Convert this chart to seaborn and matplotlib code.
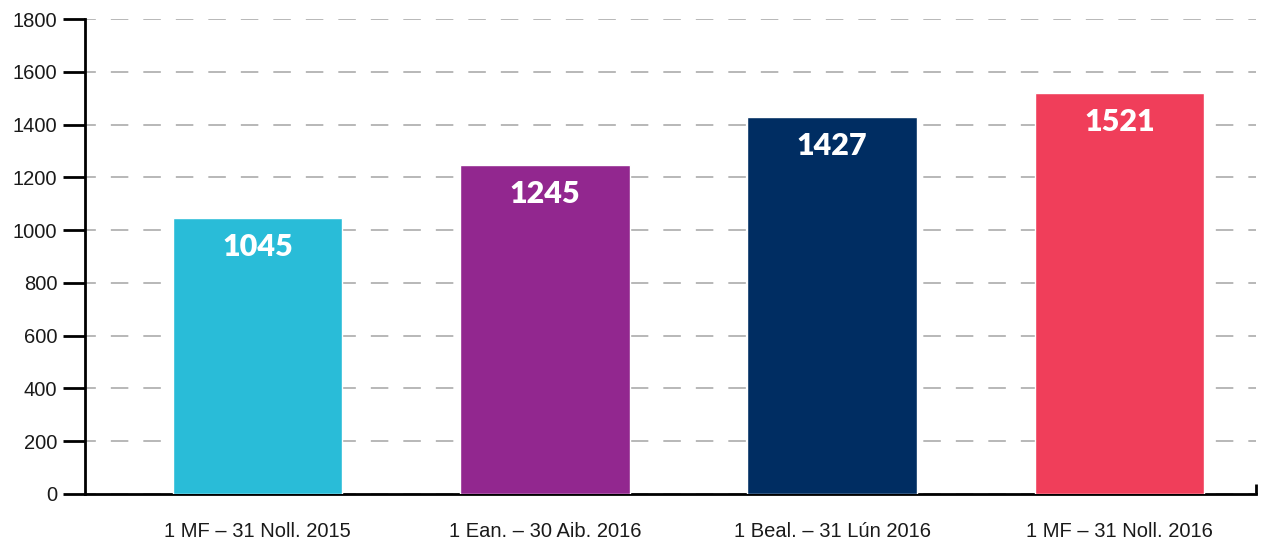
import matplotlib
matplotlib.use("Agg")
import matplotlib.pyplot as plt
import seaborn as sns
import pandas as pd

# values
periods = ["1 MF – 31 Noll. 2015", "1 Ean. – 30 Aib. 2016",
           "1 Beal. – 31 Lún 2016", "1 MF – 31 Noll. 2016"]
counts = [1045, 1245, 1427, 1521]
bar_colors = ["#29BCD8", "#92278F", "#002D62", "#F03E5A"]
y_ticks = list(range(0, 1801, 200))

df = pd.DataFrame({"period": periods, "count": counts})

sns.set_theme(style="white")
plt.rcParams["font.family"] = ["Liberation Sans", "DejaVu Sans"]

fig = plt.figure(figsize=(12.61, 5.40), dpi=100)
ax = fig.add_axes([0.0674, 0.0852, 0.9286, 0.8796])

sns.barplot(data=df, x="period", y="count", hue="period", palette=bar_colors,
            width=0.59, saturation=1, legend=False, ax=ax, zorder=3)

ax.set_xlim(-0.60, 3.475)
ax.set_ylim(0, 1800)
ax.set_yticks(y_ticks)
ax.set_xlabel("")
ax.set_ylabel("")

# dashed grey horizontal grid
ax.yaxis.grid(True, color="#ababab", linestyle=(4, (10.5, 9)), linewidth=1.2, zorder=0)
ax.xaxis.grid(False)

for side in ["top", "right"]:
    ax.spines[side].set_visible(False)
for side in ["left", "bottom"]:
    ax.spines[side].set_color("black")
    ax.spines[side].set_linewidth(2)

ax.tick_params(axis="y", direction="out", length=16, width=2, color="black",
               labelsize=14.5, labelcolor="#1a1a1a", pad=4, left=True)
ax.tick_params(axis="x", length=0, labelsize=14.5, labelcolor="#1a1a1a", pad=20)

# small upward tick at the right end of the baseline
ax.set_xticks([3.475], minor=True)
ax.tick_params(axis="x", which="minor", direction="in", length=7, width=2,
               color="black", bottom=True)

for i, v in enumerate(counts):
    ax.text(i, v - 110, str(v), ha="center", va="center", color="white",
            fontsize=22, fontweight="heavy", family=["Lato", "DejaVu Sans"],
            zorder=4)

fig.savefig("out.png", dpi=100)
